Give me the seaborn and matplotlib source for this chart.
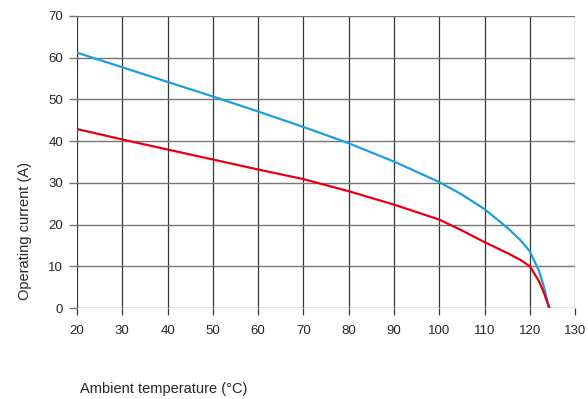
import matplotlib
matplotlib.use("Agg")
import matplotlib.pyplot as plt
import seaborn as sns
import pandas as pd

# curve values
temp_blue = [20, 30, 40, 50, 60, 70, 80, 90, 100, 105, 110, 115, 118, 120, 122, 123, 124.3]
amps_blue = [61.2, 57.7, 54.2, 50.7, 47.1, 43.4, 39.5, 35.1, 30.2, 27.2, 23.7, 19.3, 16.2, 13.6, 9.0, 5.5, 0]
temp_red = [20, 30, 40, 50, 60, 70, 80, 90, 100, 105, 110, 115, 118, 120, 122, 123, 124.3]
amps_red = [42.9, 40.4, 38.0, 35.6, 33.2, 30.9, 28.0, 24.8, 21.2, 18.6, 15.8, 13.2, 11.5, 10.0, 6.5, 4.0, 0]
x_ticks = list(range(20, 131, 10))
y_ticks = list(range(0, 71, 10))

df = pd.concat([
    pd.DataFrame({"temp": temp_blue, "amps": amps_blue, "curve": "blue"}),
    pd.DataFrame({"temp": temp_red, "amps": amps_red, "curve": "red"}),
])

sns.set_style("white")
plt.rcParams["font.family"] = ["Liberation Sans", "DejaVu Sans"]

fig = plt.figure(figsize=(5.88, 3.99), dpi=100)
ax = fig.add_axes([0.131, 0.228, 0.847, 0.732])

sns.lineplot(data=df, x="temp", y="amps", hue="curve", sort=False,
             palette={"blue": "#1a9fe0", "red": "#e30016"}, linewidth=1.6,
             legend=False, ax=ax, zorder=3)

ax.set_xlim(20, 130)
ax.set_ylim(0, 70)
ax.set_xticks(x_ticks)
ax.set_yticks(y_ticks)
for v in x_ticks:
    ax.axvline(v, color="#3a3333", lw=0.9, zorder=1)
for v in y_ticks:
    ax.axhline(v, color="#7a7575", lw=1.0, zorder=1)
for s in ax.spines.values():
    s.set_visible(False)
ax.tick_params(axis="x", length=5, width=0.9, color="#3a3333", labelsize=9.5, pad=7)
ax.tick_params(axis="y", length=6, width=1.0, color="#7a7575", labelsize=9.5, pad=4)
ax.tick_params(bottom=True, left=True)

ax.set_xlabel("")
ax.set_ylabel("")
fig.text(0.043, 0.42, "Operating current (A)", fontsize=10.5, rotation=90,
         ha="center", va="center")
fig.text(0.136, 0.025, "Ambient temperature (°C)", fontsize=10.5, ha="left", va="center")

fig.savefig("out.png", dpi=100)
